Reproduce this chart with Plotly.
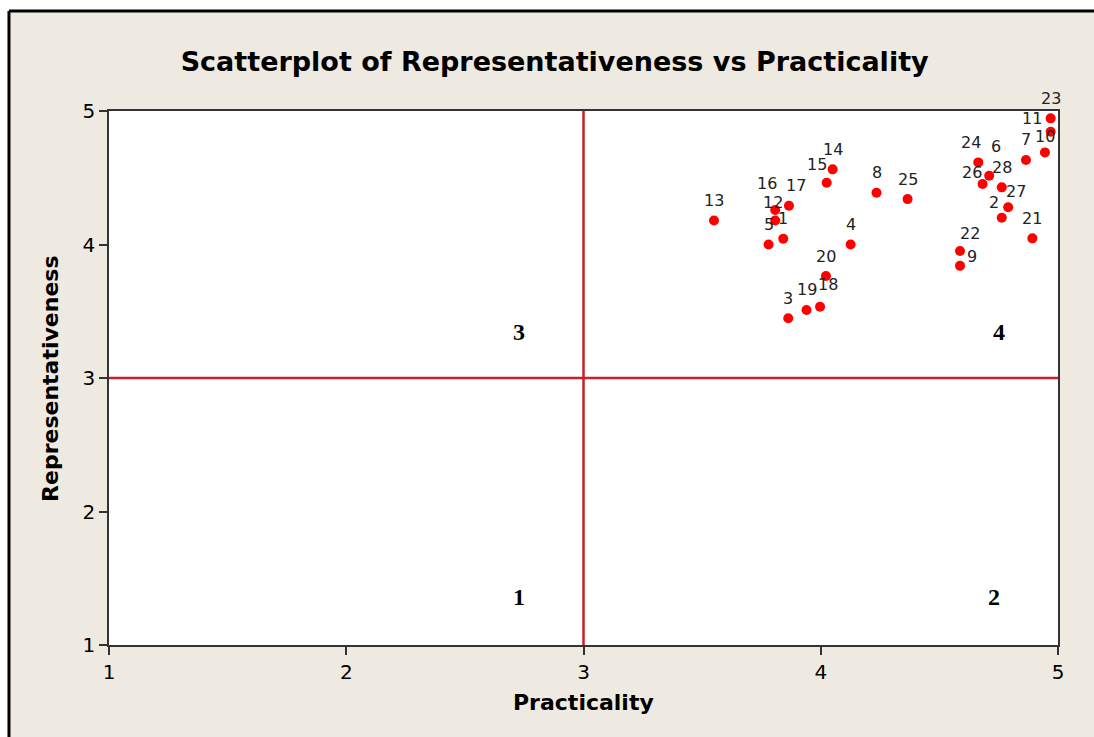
import plotly.graph_objects as go

# ---- data ----
ids = list(range(1, 29))
practicality = [3.842, 4.763, 3.863, 4.126, 3.780, 4.710, 4.865, 4.235, 4.587, 4.945,
                4.969, 3.808, 3.550, 4.050, 4.025, 3.808, 3.866, 3.997, 3.940, 4.022,
                4.892, 4.587, 4.969, 4.664, 4.366, 4.682, 4.790, 4.763]
representativeness = [4.043, 4.200, 3.447, 4.000, 4.000, 4.515, 4.633, 4.388, 3.840, 4.690,
                      4.845, 4.180, 4.180, 4.563, 4.463, 4.258, 4.290, 3.534, 3.510, 3.764,
                      4.046, 3.951, 4.945, 4.615, 4.340, 4.453, 4.279, 4.428]
quadrant_names = ["1", "2", "3", "4"]
quadrant_x = [2.73, 4.73, 2.73, 4.75]
quadrant_y = [1.36, 1.36, 3.345, 3.345]
ticks = [1, 2, 3, 4, 5]

# label offsets in pixels (dx right, dy up); default above the point
DEFAULT_SHIFT = (0, 20)
LABEL_SHIFT = {11: (-19, 13), 9: (12, 9), 6: (7, 29), 18: (8, 22), 2: (-8, 15),
               27: (8, 16), 26: (-11, 12), 24: (-7, 20), 16: (-8, 27), 17: (7, 20),
               15: (-10, 18), 22: (10, 18), 10: (0, 16), 12: (-2, 18)}

BEIGE = "#EEEAE1"
RED_LINE = "#C8202A"
AX = "#333333"

fig = go.Figure()
fig.add_trace(go.Scatter(
    x=practicality, y=representativeness, mode="markers",
    marker=dict(color="#FF0000", size=10, line=dict(width=0)),
    cliponaxis=False, showlegend=False, hoverinfo="x+y"))

annotations = []
for i, xv, yv in zip(ids, practicality, representativeness):
    dx, dy = LABEL_SHIFT.get(i, DEFAULT_SHIFT)
    annotations.append(dict(x=xv, y=yv, xref="x", yref="y", text=str(i), showarrow=False,
                            xshift=dx, yshift=dy,
                            font=dict(family="DejaVu Sans", size=16, color="#222222")))
for t, qx, qy in zip(quadrant_names, quadrant_x, quadrant_y):
    annotations.append(dict(x=qx, y=qy, xref="x", yref="y", text="<b>%s</b>" % t,
                            showarrow=False,
                            font=dict(family="Liberation Serif", size=24, color="#000000")))

# axis titles
annotations.append(dict(x=0.5, y=-0.1086, xref="paper", yref="paper", text="<b>Practicality</b>",
                        showarrow=False, xanchor="center", yanchor="middle",
                        font=dict(family="DejaVu Sans", size=22, color="#000000")))
annotations.append(dict(x=-0.0622, y=0.5, xref="paper", yref="paper",
                        text="<b>Representativeness</b>", textangle=-90,
                        showarrow=False, xanchor="center", yanchor="middle",
                        font=dict(family="DejaVu Sans", size=22, color="#000000")))

shapes = [
    # reference lines
    dict(type="line", xref="x", yref="paper", x0=3, x1=3, y0=0, y1=1,
         line=dict(color=RED_LINE, width=2.5)),
    dict(type="line", xref="paper", yref="y", x0=0, x1=1, y0=3, y1=3,
         line=dict(color=RED_LINE, width=2.5)),
    # white strips outside the frame
    dict(type="rect", xref="paper", yref="paper", x0=-0.13, x1=-0.1054, y0=-0.3, y1=1.4,
         fillcolor="white", line=dict(width=0), layer="below"),
    dict(type="rect", xref="paper", yref="paper", x0=-0.3, x1=1.2, y0=1.1873, y1=1.4,
         fillcolor="white", line=dict(width=0), layer="below"),
    # black frame (left and top edges)
    dict(type="line", xref="paper", yref="paper", x0=-0.1054, x1=-0.1054, y0=-0.3, y1=1.1873,
         line=dict(color="black", width=3)),
    dict(type="line", xref="paper", yref="paper", x0=-0.1054, x1=1.2, y0=1.1873, y1=1.1873,
         line=dict(color="black", width=3)),
]

axis_common = dict(
    range=[1, 5], tickvals=ticks, ticktext=[str(t) for t in ticks],
    showgrid=False, zeroline=False, showline=True, linecolor=AX, linewidth=1.5,
    mirror=True, ticks="outside", ticklen=8, tickwidth=1.5, tickcolor=AX,
    tickfont=dict(family="DejaVu Sans", size=20, color="#000000"),
)

fig.update_layout(
    width=1094, height=737,
    margin=dict(l=109, r=36, t=111, b=92),
    paper_bgcolor=BEIGE, plot_bgcolor="white",
    title=dict(text="<b>Scatterplot of Representativeness vs Practicality</b>",
               x=0.507, xref="container", xanchor="center",
               y=1 - 62 / 737, yref="container", yanchor="middle",
               font=dict(family="DejaVu Sans", size=27, color="#000000")),
    xaxis=dict(**axis_common),
    yaxis=dict(**axis_common),
    annotations=annotations,
    shapes=shapes,
    showlegend=False,
)

fig.write_html("out.html",
               config={"displayModeBar": False},
               post_script="document.body.style.margin='0';document.body.style.overflow='hidden';")
